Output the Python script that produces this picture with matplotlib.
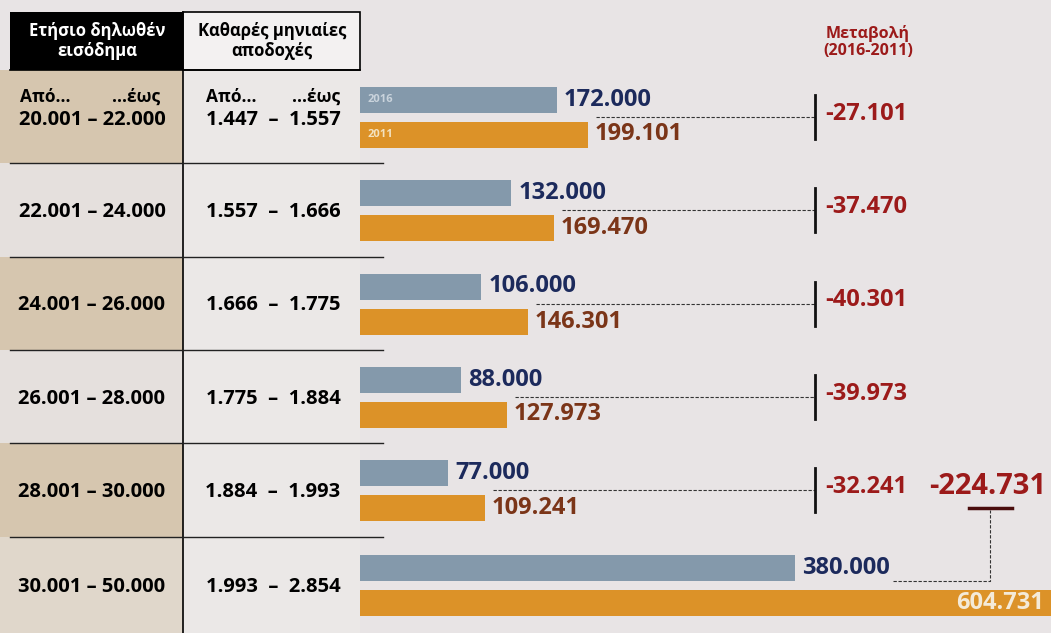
import matplotlib
matplotlib.use("Agg")
import matplotlib.pyplot as plt
from matplotlib.patches import Rectangle

plt.rcParams['font.family'] = ['Open Sans', 'DejaVu Sans']

# ---- data ----
income_ranges = ["20.001 – 22.000", "22.001 – 24.000", "24.001 – 26.000",
                 "26.001 – 28.000", "28.001 – 30.000", "30.001 – 50.000"]
net_ranges = ["1.447  –  1.557", "1.557  –  1.666", "1.666  –  1.775",
              "1.775  –  1.884", "1.884  –  1.993", "1.993  –  2.854"]
v2016 = [172000, 132000, 106000, 88000, 77000, 380000]
v2011 = [199101, 169470, 146301, 127973, 109241, 604731]
change = [-27101, -37470, -40301, -39973, -32241]
total_change = -224731

W, H = 1051, 633
BG = "#e8e4e5"
GREY = "#8499ab"
ORANGE = "#dc9228"
NAVY = "#1c2a5c"
BROWN = "#7b3518"
RED = "#9c1a1a"


def fmt(v):
    s = f"{abs(v):,}".replace(",", ".")
    return ("-" if v < 0 else "") + s


fig = plt.figure(figsize=(W / 100, H / 100), dpi=100, facecolor=BG)

# table layer in pixel coordinates
ax = fig.add_axes([0, 0, 1, 1])
ax.set_xlim(0, W)
ax.set_ylim(H, 0)
ax.axis("off")

bounds = [70, 163, 257, 350, 443, 537, 633]
centers = [(bounds[i] + bounds[i + 1]) / 2 for i in range(len(income_ranges))]
left_cols = ["#d6c6af", "#e5e0dd", "#d6c6af", "#e5e0dd", "#d6c6af", "#e0d7cb"]

for i in range(len(income_ranges)):
    y0, y1 = bounds[i], bounds[i + 1]
    ax.add_patch(Rectangle((0, y0), 183, y1 - y0, color=left_cols[i], lw=0))
    ax.add_patch(Rectangle((183, y0), 177, y1 - y0, color="#ebe8e7", lw=0))

# header
ax.add_patch(Rectangle((10, 12), 173, 58, color="black", lw=0))
ax.add_patch(Rectangle((183, 12), 177, 58, facecolor="#f3f1f1", edgecolor="black", lw=1.2))
ax.text(97, 41, "Ετήσιο δηλωθέν\nεισόδημα", color="white", ha="center", va="center",
        fontsize=12, fontweight="bold", linespacing=1.1)
ax.text(272, 41, "Καθαρές μηνιαίες\nαποδοχές", color="black", ha="center", va="center",
        fontsize=12, fontweight="bold", linespacing=1.1)

# grid lines of the table
ax.plot([183, 183], [12, H], color="black", lw=1.2)
ax.plot([10, 360], [70, 70], color="black", lw=1.2)
for b in bounds[1:-1]:
    ax.plot([10, 383], [b, b], color="#222222", lw=1.0)

for i, (a, b) in enumerate(zip(income_ranges, net_ranges)):
    yc = centers[i] + 2
    if i == 0:
        ax.text(20, 97, "Από...", fontsize=12.5, fontweight="bold", va="center")
        ax.text(160, 97, "...έως", fontsize=12.5, fontweight="bold", va="center", ha="right")
        ax.text(206, 97, "Από...", fontsize=12.5, fontweight="bold", va="center")
        ax.text(340, 97, "...έως", fontsize=12.5, fontweight="bold", va="center", ha="right")
        yc = 120
    ax.text(92, yc, a, fontsize=14.5, fontweight="bold", ha="center", va="center")
    ax.text(273, yc, b, fontsize=14.5, fontweight="bold", ha="center", va="center")

ax.text(868, 42, "Μεταβολή\n(2016-2011)", color=RED, ha="center", va="center",
        fontsize=11.5, fontweight="bold", linespacing=1.15)

# bar layer: x in data units, y in pixel rows
X0 = 360
scale = 197 / 172000  # pixels per unit
xmax = (W - X0) / scale
axb = fig.add_axes([X0 / W, 0, (W - X0) / W, 1])
axb.set_xlim(0, xmax)
axb.set_ylim(H, 0)
axb.axis("off")


def px(p):
    return (p - X0) / scale


y16 = [c - 17 for c in centers]
y11 = [c + 18 for c in centers]
axb.barh(y16, v2016, height=26, color=GREY, left=0)
axb.barh(y11, v2011, height=26, color=ORANGE, left=0)
axb.text(px(368), y16[0], "2016", color="#c9d3dc", fontsize=8, va="center", fontweight="bold")
axb.text(px(368), y11[0], "2011", color="#f3e2c0", fontsize=8, va="center", fontweight="bold")

for i in range(len(v2016)):
    axb.annotate(fmt(v2016[i]), (v2016[i], y16[i]), xytext=(5, 0), textcoords="offset points",
                 color=NAVY, fontsize=17, fontweight="bold", va="center")
    if i < len(v2016) - 1:
        axb.annotate(fmt(v2011[i]), (v2011[i], y11[i]), xytext=(5, 0), textcoords="offset points",
                     color=BROWN, fontsize=17, fontweight="bold", va="center")
    else:
        axb.annotate(fmt(v2011[i]), (v2011[i], y11[i]), xytext=(-6, 0), textcoords="offset points",
                     color="#f4ead8", fontsize=17, fontweight="bold", va="center", ha="right",
                     annotation_clip=False)

for i, ch in enumerate(change):
    yc = centers[i]
    axb.plot([v2011[i] + px(X0 + 8), px(815)], [yc, yc], color="#333333", lw=0.8,
             ls=(0, (3, 1.5)))
    axb.plot([px(815), px(815)], [yc - 22, yc + 22], color="#111111", lw=2)
    axb.text(px(825), yc - 3, fmt(ch), color=RED, fontsize=17, fontweight="bold", va="center")

# total change connector
yc = centers[-1] - 4
axb.plot([px(893), px(990), px(990)], [yc, yc, 510], color="#333333", lw=0.8, ls=(0, (3, 1.5)))
axb.plot([px(969), px(1012)], [508, 508], color="#4a0d0d", lw=2.5)
axb.text(px(988), 486, fmt(total_change), color=RED, fontsize=21, fontweight="bold",
         ha="center", va="center")

fig.savefig("out.png", dpi=100, facecolor=BG)
